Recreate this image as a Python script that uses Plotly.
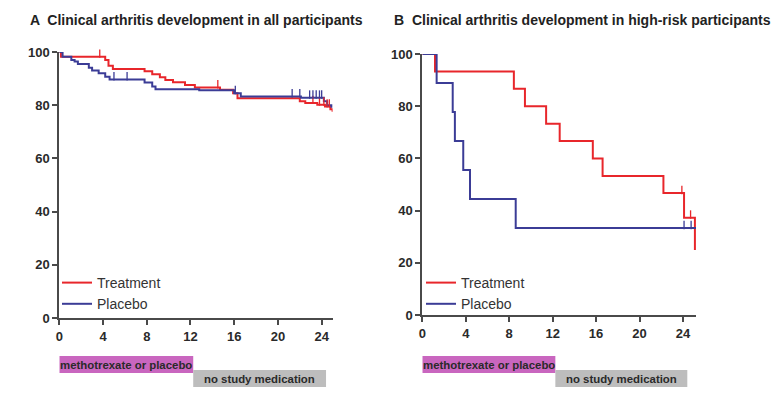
import plotly.graph_objects as go
import numpy as np

# ---------------- data ----------------
# Panel A: all participants
a_trt_t = [0, 0.15, 4.2, 4.5, 4.9, 7.8, 8.5, 9.2, 9.7, 10.4, 11.5, 12.4, 14.7, 15.9, 16.3, 22.0, 22.5, 23.6, 24.3, 24.8, 25.0]
a_trt_v = [100, 98.2, 97.0, 94.8, 93.6, 92.8, 91.6, 90.5, 89.5, 88.6, 87.6, 86.7, 85.8, 84.5, 82.6, 81.5, 80.8, 80.2, 79.5, 78.5, 77.5]
a_trt_cens = [3.7, 14.5, 23.2, 23.8, 24.2, 24.5, 24.7]

a_pla_t = [0, 0.3, 1.1, 1.4, 1.7, 2.7, 3.0, 3.6, 4.2, 4.6, 7.8, 8.5, 8.8, 12.8, 16.0, 16.6, 22.1, 24.2, 24.5, 24.9]
a_pla_v = [100, 98.2, 97.0, 96.4, 95.5, 94.1, 93.0, 92.0, 90.7, 89.7, 88.5, 87.0, 86.0, 85.6, 84.5, 83.3, 82.8, 81.5, 80.0, 79.0]
a_pla_cens = [5.0, 6.2, 16.1, 21.3, 22.0, 22.9, 23.2, 23.5, 23.8, 24.0]

# Panel B: high-risk participants
b_trt_t = [0, 1.17, 8.43, 9.45, 11.4, 12.65, 15.7, 16.6, 22.2, 24.1, 25.1]
b_trt_v = [100, 93.3, 86.7, 80.0, 73.3, 66.7, 60.0, 53.3, 46.7, 37.3, 24.9]
b_trt_cens = [23.9, 24.7]

b_pla_t = [0, 1.32, 2.8, 3.0, 3.77, 4.39, 8.6, 25.2]
b_pla_v = [100, 88.9, 77.8, 66.7, 55.6, 44.4, 33.3, 33.3]
b_pla_cens = [24.1, 24.75]

x_ticks = [0, 4, 8, 12, 16, 20, 24]
y_ticks = [0, 20, 40, 60, 80, 100]

titles = ["A  Clinical arthritis development in all participants",
          "B  Clinical arthritis development in high-risk participants"]
series_names = ["Treatment", "Placebo"]
phase_labels = ["methotrexate or placebo", "no study medication"]
phase_bounds = [0, 12.25, 24.4]

RED = "#e8262b"
BLUE = "#3b3c96"
AX = "#4a4a4a"
FONT = "Liberation Sans, Arial, sans-serif"


def step_value(ts, vs, t):
    idx = np.searchsorted(np.array(ts), t, side="right") - 1
    return vs[max(idx, 0)]


fig = go.Figure()

panels = [
    ("x", "y", a_trt_t, a_trt_v, a_trt_cens, a_pla_t, a_pla_v, a_pla_cens, "legend"),
    ("x2", "y2", b_trt_t, b_trt_v, b_trt_cens, b_pla_t, b_pla_v, b_pla_cens, "legend2"),
]

for xa, ya, tt, tv, tc, pt, pv, pc, lg in panels:
    fig.add_trace(go.Scatter(x=tt, y=tv, mode="lines", line=dict(color=RED, width=2, shape="hv"),
                             name=series_names[0], xaxis=xa, yaxis=ya, legend=lg, cliponaxis=False))
    fig.add_trace(go.Scatter(x=pt, y=pv, mode="lines", line=dict(color=BLUE, width=2, shape="hv"),
                             name=series_names[1], xaxis=xa, yaxis=ya, legend=lg, cliponaxis=False))
    fig.add_trace(go.Scatter(x=tc, y=[step_value(tt, tv, c) + 1.2 for c in tc], mode="markers",
                             marker=dict(symbol="line-ns-open", size=6, color=RED, line=dict(color=RED, width=1.3)),
                             showlegend=False, xaxis=xa, yaxis=ya, cliponaxis=False))
    fig.add_trace(go.Scatter(x=pc, y=[step_value(pt, pv, c) + 1.2 for c in pc], mode="markers",
                             marker=dict(symbol="line-ns-open", size=6, color=BLUE, line=dict(color=BLUE, width=1.3)),
                             showlegend=False, xaxis=xa, yaxis=ya, cliponaxis=False))

W, H = 781, 395
def px(x):
    return x / W
def py(y):
    return 1 - y / H

axis_common = dict(showgrid=False, zeroline=False, showline=True, linecolor=AX, linewidth=2,
                   ticks="outside", ticklen=5, tickwidth=2, tickcolor=AX, automargin=False,
                   tickfont=dict(family=FONT, size=13, color="#2a2a2a"))

x_text = ["<b>%d</b>" % v for v in x_ticks]
y_text = ["<b>%d</b>" % v for v in y_ticks]

fig.update_layout(
    template="none",
    width=W, height=H,
    margin=dict(l=0, r=0, t=0, b=0, autoexpand=False),
    paper_bgcolor="white", plot_bgcolor="white",
    xaxis=dict(domain=[px(59.3), px(332.6)], range=[0, 25], tickvals=x_ticks, ticktext=x_text, anchor="y", **axis_common),
    yaxis=dict(domain=[py(318), py(52)], range=[0, 100], tickvals=y_ticks, ticktext=y_text, anchor="x", **axis_common),
    xaxis2=dict(domain=[px(422.3), px(696)], range=[0, 25.2], tickvals=x_ticks, ticktext=x_text, anchor="y2", **axis_common),
    yaxis2=dict(domain=[py(315), py(54)], range=[0, 100], tickvals=y_ticks, ticktext=y_text, anchor="x2", **axis_common),
    legend=dict(x=px(57), y=py(267), xanchor="left", yanchor="top", bgcolor="rgba(0,0,0,0)",
                font=dict(family=FONT, size=14, color="#333333"),
                itemwidth=30, tracegroupgap=0),
    legend2=dict(x=px(421), y=py(267), xanchor="left", yanchor="top", bgcolor="rgba(0,0,0,0)",
                 font=dict(family=FONT, size=14, color="#333333"),
                 itemwidth=30, tracegroupgap=0),
    showlegend=True,
)

# Titles
for i, (xp, yp) in enumerate([(28, 20), (392, 20)]):
    fig.add_annotation(text="<b>" + titles[i] + "</b>", x=px(xp), y=py(yp), xref="paper", yref="paper",
                       xanchor="left", yanchor="middle", showarrow=False,
                       font=dict(family=FONT, size=14, color="#222222"))

# Treatment phase bars
for xa in ["x", "x2"]:
    fig.add_shape(type="rect", xref=xa, yref="paper", x0=phase_bounds[0], x1=phase_bounds[1],
                  y0=py(373), y1=py(356), fillcolor="#c966bf", line=dict(width=0), layer="below")
    fig.add_shape(type="rect", xref=xa, yref="paper", x0=phase_bounds[1], x1=phase_bounds[2],
                  y0=py(387), y1=py(370), fillcolor="#bdbdbd", line=dict(width=0), layer="below")
    fig.add_annotation(text="<b>" + phase_labels[0] + "</b>", x=(phase_bounds[0] + phase_bounds[1]) / 2,
                       y=py(364.5), xref=xa, yref="paper", xanchor="center", yanchor="middle", showarrow=False,
                       font=dict(family=FONT, size=11.4, color="#2a2a2a"))
    fig.add_annotation(text="<b>" + phase_labels[1] + "</b>", x=(phase_bounds[1] + phase_bounds[2]) / 2,
                       y=py(378.5), xref=xa, yref="paper", xanchor="center", yanchor="middle", showarrow=False,
                       font=dict(family=FONT, size=11.4, color="#2a2a2a"))

fig.write_html("out.html", config={"displayModeBar": False},
               post_script="document.body.style.margin='0';")
